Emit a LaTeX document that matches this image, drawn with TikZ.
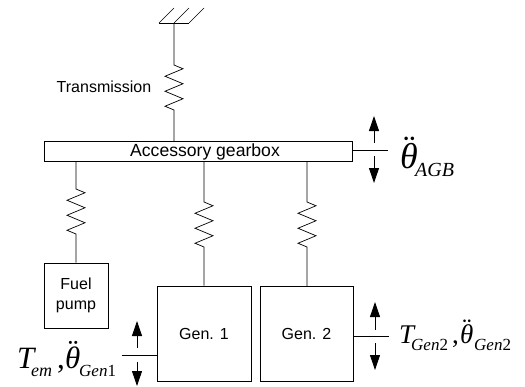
\documentclass[tikz,border=0pt]{standalone}
\usepackage{fontspec}
\setmainfont{Liberation Sans}
\newfontfamily\symfont{Liberation Serif}
\usepackage{tikz}
\usetikzlibrary{arrows.meta,decorations.pathmorphing}
\newcommand{\thetadd}{\rlap{\hspace{.02em}\raisebox{.2em}{¨}}θ}
\newcommand{\subsize}[1]{\fontsize{#1}{#1}\selectfont}

\begin{document}
\begin{tikzpicture}[
    x=1pt, y=-1pt,
    block/.style={draw, line width=0.8pt, inner sep=0pt, align=center, font=\fontsize{16}{19.5}\selectfont},
    link/.style={line width=0.7pt},
    spring/.style={link, decoration={zigzag, segment length=15pt, amplitude=9pt}},
    motion/.style={-{Triangle[width=10pt, length=15pt]}, line width=0.9pt},
    symbol/.style={inner sep=0pt, anchor=base west, font=\symfont\itshape}
  ]
    \useasboundingbox (0,0) rectangle (525,386);

    \node[block, minimum width=308pt, minimum height=20pt] (gearbox) at (198,151) {};
    \node[inner sep=0pt, font=\fontsize{17.6}{19}\selectfont] (gearboxtext) at (205,152) {Accessory gearbox};
    \node[block, minimum width=64pt, minimum height=65pt] (fuel) at (76,295.5) {Fuel\\pump};
    \node[block, minimum width=94pt, minimum height=95pt] (gen1) at (204,333.5) {Gen. 1};
    \node[block, minimum width=93pt, minimum height=95pt] (gen2) at (306.5,333.5) {Gen. 2};
    \node[inner sep=0pt, font=\fontsize{16}{18}\selectfont] (transtext) at (104,87) {Transmission};

    % wall
    \coordinate (wall) at (174,23);
    \coordinate (wallL) at (159,23);
    \coordinate (wallR) at (189,23);
    \draw[link] (wallL) -- (wallR);
    \draw[link] (wallL) -- +(15,-15);
    \draw[link] (wall) -- +(15,-15);
    \draw[link] (wallR) -- +(15,-15);

    % springs
    \coordinate (topA) at (174,65);   \coordinate (topB) at (174,110);
    \coordinate (fuelA) at (76,189);  \coordinate (fuelB) at (76,234);
    \coordinate (oneA) at (204,202);  \coordinate (oneB) at (204,247);
    \coordinate (twoA) at (307,202);  \coordinate (twoB) at (307,247);
    \draw[spring] (wall) -- (topA) decorate {-- (topB)} -- (174,141);
    \draw[spring] (76,161) -- (fuelA) decorate {-- (fuelB)} -- (fuel.north);
    \draw[spring] (204,161) -- (oneA) decorate {-- (oneB)} -- (gen1.north);
    \draw[spring] (307,161) -- (twoA) decorate {-- (twoB)} -- (307,286);

    % gearbox acceleration
    \coordinate (agbEnd) at (388,150);
    \coordinate (agbUp) at (374,143);
    \coordinate (agbDown) at (374,156);
    \draw[link] (gearbox.east |- agbEnd) -- (agbEnd);
    \draw[motion] (agbUp) -- +(0,-27);
    \draw[motion] (agbDown) -- +(0,27);
    \node[symbol] (agbtext) at (400,168) {\subsize{36}\makebox[15pt][l]{\thetadd}\raisebox{-8pt}{\subsize{20}AGB}};

    % generator 1
    \coordinate (oneEnd) at (122,355);
    \coordinate (oneUp) at (137,348);
    \coordinate (oneDown) at (137,362);
    \draw[link] (gen1.west |- oneEnd) -- (oneEnd);
    \draw[motion] (oneUp) -- +(0,-27);
    \draw[motion] (oneDown) -- +(0,24);
    \node[symbol] (onetext) at (17,368) {\subsize{31}\makebox[14pt][l]{T}\makebox[26pt][l]{\raisebox{-8pt}{\subsize{18}em}}\upshape\makebox[8pt][l]{,}\itshape\makebox[14pt][l]{\thetadd}\raisebox{-8pt}{\subsize{17}Gen\upshape 1}};

    % generator 2
    \coordinate (twoEnd) at (389,336);
    \coordinate (twoUp) at (375,330);
    \coordinate (twoDown) at (375,343);
    \draw[link] (gen2.east |- twoEnd) -- (twoEnd);
    \draw[motion] (twoUp) -- +(0,-28);
    \draw[motion] (twoDown) -- +(0,27);
    \node[symbol] (twotext) at (399,343) {\subsize{27}\makebox[12pt][l]{T}\makebox[41pt][l]{\raisebox{-7pt}{\subsize{17}Gen\upshape 2}}\upshape\makebox[8pt][l]{,}\itshape\makebox[14pt][l]{\thetadd}\raisebox{-7pt}{\subsize{17}Gen\upshape 2}};
  \end{tikzpicture}
\end{document}
